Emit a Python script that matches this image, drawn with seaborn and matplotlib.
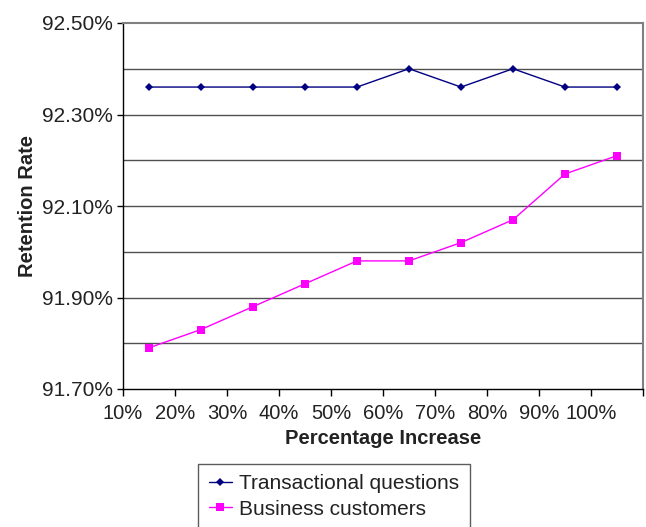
import matplotlib
matplotlib.use("Agg")
import matplotlib.pyplot as plt
from matplotlib.ticker import MultipleLocator, FuncFormatter, FixedLocator
import seaborn as sns
import pandas as pd

# Percentage increase (midpoints of each 10% band) and retention rates (%)
increase = [15, 25, 35, 45, 55, 65, 75, 85, 95, 105]
transactional = [92.36, 92.36, 92.36, 92.36, 92.36, 92.40, 92.36, 92.40, 92.36, 92.36]
business = [91.79, 91.83, 91.88, 91.93, 91.98, 91.98, 92.02, 92.07, 92.17, 92.21]
x_tick_values = [10, 20, 30, 40, 50, 60, 70, 80, 90, 100, 110]
x_tick_labels = ["10%", "20%", "30%", "40%", "50%", "60%", "70%", "80%", "90%", "100%", ""]
y_tick_values = [91.70, 91.90, 92.10, 92.30, 92.50]

df = pd.DataFrame({
    "increase": increase * 2,
    "rate": transactional + business,
    "series": ["Transactional questions"] * len(increase) + ["Business customers"] * len(increase),
})

sns.set_theme(style="white")
plt.rcParams["font.family"] = ["Liberation Sans", "DejaVu Sans"]

fig = plt.figure(figsize=(6.46, 5.27), dpi=100)
ax = fig.add_axes([123 / 646, 1 - 389 / 527, 520 / 646, 366 / 527])

palette = {"Transactional questions": "#000080", "Business customers": "#FF00FF"}
markers = {"Transactional questions": "D", "Business customers": "s"}
sns.lineplot(
    data=df, x="increase", y="rate", hue="series", style="series",
    palette=palette, markers=markers, dashes=False, linewidth=1.0,
    markersize=5, markeredgewidth=0, ax=ax, legend=False,
)
# diamonds a bit smaller
for line, ms in zip(ax.lines, [4.5, 5.5]):
    line.set_markersize(ms)

ax.set_xlim(10, 110)
ax.set_ylim(91.70, 92.50)
ax.xaxis.set_major_locator(FixedLocator(x_tick_values))
ax.set_xticklabels(x_tick_labels)
ax.yaxis.set_major_locator(FixedLocator(y_tick_values))
ax.yaxis.set_minor_locator(MultipleLocator(0.1))
ax.yaxis.set_major_formatter(FuncFormatter(lambda v, p: f"{v:.2f}%"))

ax.grid(False)
for yv in [91.8, 91.9, 92.0, 92.1, 92.2, 92.3, 92.4]:
    ax.axhline(yv, color="#505050", linewidth=1.0, zorder=0)

ax.tick_params(axis="x", which="major", direction="out", length=5, width=1,
               color="black", labelsize=14.5, pad=6, bottom=True)
ax.tick_params(axis="y", which="major", direction="out", length=4, width=1,
               color="black", labelsize=15, pad=3, left=True)
ax.tick_params(axis="y", which="minor", length=0)
for lbl in ax.get_xticklabels() + ax.get_yticklabels():
    lbl.set_color("#222222")

for side in ["left", "bottom"]:
    ax.spines[side].set_color("black")
    ax.spines[side].set_linewidth(1.0)
for side in ["top", "right"]:
    ax.spines[side].set_color("#808080")
    ax.spines[side].set_linewidth(1.5)

ax.set_xlabel("Percentage Increase", fontsize=14.5, fontweight="bold", color="#222222", labelpad=4)
ax.set_ylabel("Retention Rate", fontsize=14.5, fontweight="bold", color="#222222", labelpad=4)

handles = [
    plt.Line2D([], [], color="#000080", marker="D", markersize=4.5, markeredgewidth=0, linewidth=1.0),
    plt.Line2D([], [], color="#FF00FF", marker="s", markersize=5.5, markeredgewidth=0, linewidth=1.0),
]
leg = fig.legend(
    handles, ["Transactional questions", "Business customers"],
    loc="upper center", bbox_to_anchor=(334 / 646, 1 - 464 / 527),
    fontsize=15, frameon=True, fancybox=False, edgecolor="#333333",
    handlelength=1.1, handletextpad=0.35, borderpad=0.5, labelspacing=0.3,
    borderaxespad=0,
)
leg.get_frame().set_linewidth(1.0)
for t in leg.get_texts():
    t.set_color("#222222")

fig.savefig("out.png", dpi=100, facecolor="white")
